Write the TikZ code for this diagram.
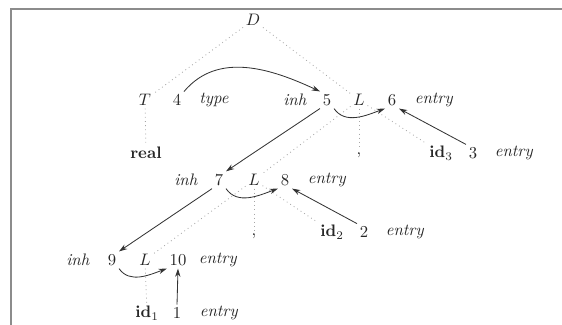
\documentclass[tikz,border=0pt]{standalone}
\usetikzlibrary{arrows.meta}
\begin{document}
\begin{tikzpicture}[x=0.6pt,y=-0.6pt,
  lbl/.style={inner sep=1.5pt, text=black!85},
  tree/.style={draw=black!35, dotted, line width=0.5pt},
  dep/.style={draw=black!80, line width=0.5pt, -{Stealth[length=5pt,width=3.2pt]}},
  frameline/.style={draw=black!45, line width=0.9pt}]
\useasboundingbox (0,0) rectangle (562,325);
\coordinate (f1) at (11,325);
\coordinate (f2) at (11,9);
\coordinate (f3) at (562,9);
\draw[frameline] (f1) -- (f2) -- (f3);
% row 0
\node[lbl] (D) at (253,20) {$D$};
% row 1
\node[lbl] (T) at (145,100) {$T$};
\node[lbl] (n4) at (177,100) {4};
\node[lbl] (type) at (214,100) {\textit{type}};
\node[lbl] (inh5) at (295,100) {\textit{inh}};
\node[lbl] (n5) at (327,100) {5};
\node[lbl] (L1) at (359,100) {$L$};
\node[lbl] (n6) at (392,100) {6};
\node[lbl] (entry6) at (434,100) {\textit{entry}};
% row 2
\node[lbl] (real) at (146,153) {\textbf{real}};
\node[lbl] (c1) at (359,155) {,};
\node[lbl] (id3) at (441,153) {$\mathbf{id}_3$};
\node[lbl] (n3) at (473,153) {3};
\node[lbl] (entry3) at (514,153) {\textit{entry}};
% row 3
\node[lbl] (inh7) at (186,180) {\textit{inh}};
\node[lbl] (n7) at (219,180) {7};
\node[lbl] (L2) at (254,180) {$L$};
\node[lbl] (n8) at (285,180) {8};
\node[lbl] (entry8) at (327,180) {\textit{entry}};
% row 4
\node[lbl] (c2) at (254,236) {,};
\node[lbl] (id2) at (332,232) {$\mathbf{id}_2$};
\node[lbl] (n2) at (364,232) {2};
\node[lbl] (entry2) at (405,232) {\textit{entry}};
% row 5
\node[lbl] (inh9) at (78,260) {\textit{inh}};
\node[lbl] (n9) at (112,260) {9};
\node[lbl] (L3) at (145,260) {$L$};
\node[lbl] (n10) at (178,260) {10};
\node[lbl] (entry10) at (218,260) {\textit{entry}};
% row 6
\node[lbl] (id1) at (147,313) {$\mathbf{id}_1$};
\node[lbl] (n1) at (177,313) {1};
\node[lbl] (entry1) at (219,313) {\textit{entry}};
% parse tree (dotted)
\draw[tree] (D) -- (T);
\draw[tree] (D) -- (L1);
\draw[tree] (T) -- (real);
\draw[tree] (L1) -- (L2);
\draw[tree] (L1) -- (c1);
\draw[tree] (L1) -- (id3);
\draw[tree] (L2) -- (L3);
\draw[tree] (L2) -- (c2);
\draw[tree] (L2) -- (id2);
\draw[tree] (L3) -- (id1);
% dependency graph
\draw[dep] (n4.north east) to[out=50,in=155] (n5.north west);
\draw[dep] (n5.south east) to[out=-55,in=200] (n6.south west);
\draw[dep] (n3.north west) -- (n6.south east);
\draw[dep] (n5.south west) -- (n7.north east);
\draw[dep] (n7.south east) to[out=-55,in=200] (n8.south west);
\draw[dep] (n2.north west) -- (n8.south east);
\draw[dep] (n7.south west) -- (n9.north east);
\draw[dep] (n9.south east) to[out=-55,in=200] (n10.south west);
\draw[dep] (n1.north) -- (n10.south);
\end{tikzpicture}
\end{document}
